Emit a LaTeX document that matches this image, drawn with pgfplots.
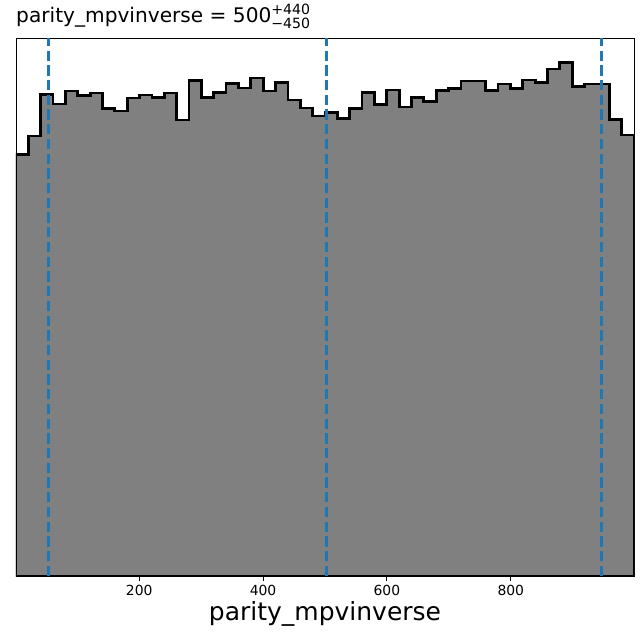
\documentclass[border=0pt]{standalone}
\usepackage{amsmath}
\usepackage{fontspec}
\setmainfont{DejaVu Sans}
\usepackage{pgfplots}
\pgfplotsset{compat=1.18}
\definecolor{tabblue}{HTML}{1F77B4}
\begin{document}
\begin{tikzpicture}
\begin{axis}[
  scale only axis,
  width=445pt, height=387.4pt,
  xmin=1, xmax=999, ymin=0, ymax=538,
  axis line style={line width=0.6pt},
  xtick={200,400,600,800},
  ytick=\empty,
  tick align=outside,
  major tick length=3.5pt,
  tick style={black, line width=0.6pt},
  xtick pos=bottom,
  /pgf/number format/assume math mode=true,
  xticklabel style={font=\fontsize{10}{12}\selectfont, anchor=base, yshift=-10.2pt},
  xlabel={parity\_mpvinverse},
  x label style={at={(axis description cs:0.5,0)}, anchor=base, yshift=-31.7pt, font=\fontsize{18}{21}\selectfont},
  clip=true,
]
\addplot[const plot, fill=gray, draw=black, line width=2pt] coordinates {
(1,0) (1,421.7) (20.96,440) (40.92,481.3) (60.88,472) (80.84,485) (100.8,480.7)
(120.76,483) (140.72,467.7) (160.68,465) (180.64,478) (200.6,481) (220.56,478.7)
(240.52,483) (260.48,456) (280.44,495.7) (300.4,478.7) (320.36,483.3) (340.32,492.3)
(360.28,488) (380.24,498) (400.2,485) (420.16,493.3) (440.12,476) (460.08,468)
(480.04,460) (500,463.3) (519.96,457.7) (539.92,467.3) (559.88,483.3) (579.84,471.3)
(599.8,486) (619.76,469) (639.72,478.7) (659.68,474.7) (679.64,485.7) (699.6,487.7)
(719.56,495) (739.52,495) (759.48,485.3) (779.44,492) (799.4,487.7) (819.36,496)
(839.32,493.7) (859.28,507) (879.24,513.7) (899.2,489.7) (919.16,492) (939.12,492)
(959.08,456.7) (979.04,441) (999,441) (999,0)
} -- cycle;
\addplot[tabblue, line width=2pt, dash pattern=on 7.4pt off 3.2pt] coordinates {(53,0) (53,538)};
\addplot[tabblue, line width=2pt, dash pattern=on 7.4pt off 3.2pt] coordinates {(503,0) (503,538)};
\addplot[tabblue, line width=2pt, dash pattern=on 7.4pt off 3.2pt] coordinates {(947,0) (947,538)};
\end{axis}
\node[anchor=base west, inner sep=0pt, font=\fontsize{14.5}{17}\selectfont] at ([yshift=11.5pt]current axis.north west) {parity\_mpvinverse = 500${}^{\text{+440}}_{\text{−450}}$};
\path ([xshift=-11.5pt, yshift=-46pt]current axis.south west) rectangle ([xshift=7.2pt, yshift=27.4pt]current axis.north east);
\end{tikzpicture}
\end{document}
